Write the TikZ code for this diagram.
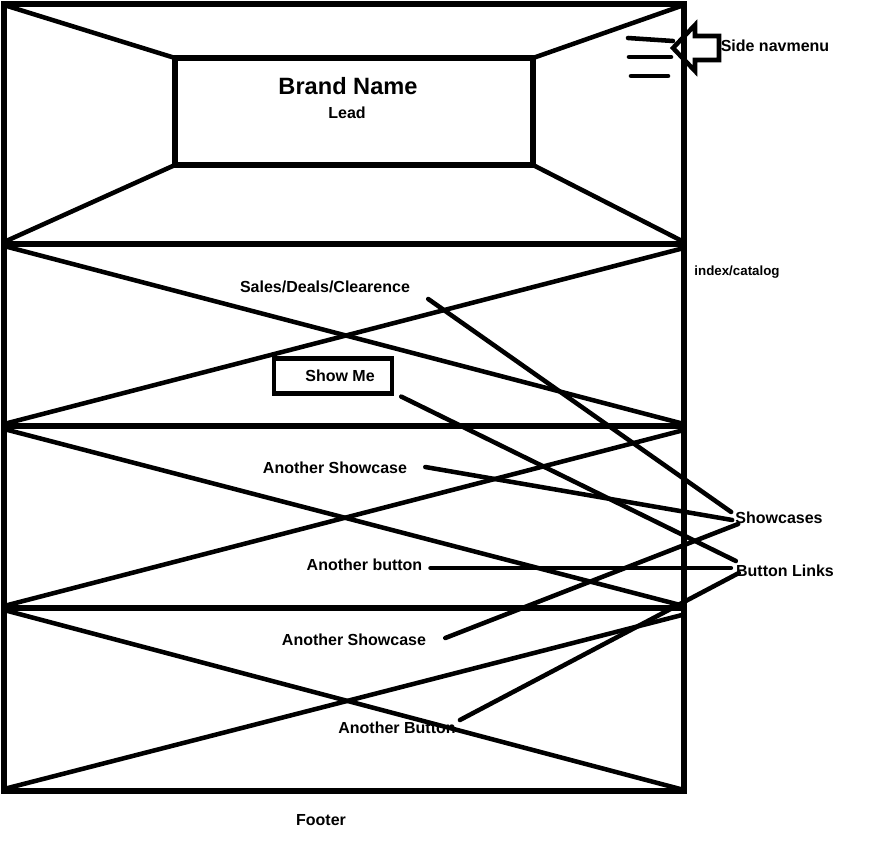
\documentclass[tikz,border=0pt]{standalone}
\usepackage{fontspec}
\setmainfont{Liberation Sans}
\usetikzlibrary{calc,positioning}
\tikzset{
  frame/.style={line width=3.9pt},
  cross/.style={line width=3.4pt},
  link/.style={line width=3.4pt, line cap=round},
  lbl/.style={font=\bfseries\fontsize{12}{14}\selectfont, inner sep=0pt, anchor=base},
  btnbox/.style={draw, line width=3.4pt, minimum width=88.5pt, minimum height=26pt, inner sep=0pt,
    font=\bfseries\fontsize{12}{14}\selectfont},
}
\begin{document}
\begin{tikzpicture}[x=0.75pt,y=0.75pt,yscale=-1,xscale=1]
\useasboundingbox (0,0) rectangle (877,842);

%Header crosses
\draw [cross] (4,5) -- (175,58);
\draw [cross] (684,5) -- (533,58);
\draw [cross] (4,242) -- (175,165);
\draw [cross] (684,242) -- (533,165);
\draw [frame] (175,58) rectangle (533,165);
\node [lbl, font=\bfseries\fontsize{17.7}{20}\selectfont] (brand) at (348,94.5) {Brand Name};
\node [lbl] (lead) at (347,118) {Lead};

%Section crosses
\draw [cross] (4,246) -- (684,424);
\draw [cross] (4,424) -- (684,248);
\draw [cross] (4,429) -- (684,606);
\draw [cross] (4,606) -- (684,430);
\draw [cross] (4,610) -- (684,790);
\draw [cross] (4,789) -- (682,615);

%Frame and separators
\draw [frame] (4,4) rectangle (684,791);
\draw [frame] (4,244) -- (684,244);
\draw [frame] (4,426) -- (684,426);
\draw [frame] (4,608) -- (684,608);

%Side navmenu
\draw [link] (628,38) -- (673,41);
\draw [link] (629,57) -- (671,57);
\draw [link] (631,76) -- (668,76);
\draw [line width=3.4pt] (673,48) -- (695,25) -- (695,36) -- (719,36) -- (719,60) -- (695,60) -- (695,71) -- cycle;
\node [lbl] (sidenav) at (775,52) {Side navmenu};
\node [lbl, font=\bfseries\fontsize{10}{12}\selectfont] (index) at (737,275) {index/catalog};

%Labels
\node [lbl] (sales) at (325,292) {Sales/Deals/Clearence};
\node [btnbox] (showme) at (333,376) {\hspace*{10.5pt}Show Me};
\node [lbl] (showcaseA) at (335,473) {Another Showcase};
\node [lbl] (buttonA) at (364.5,570) {Another button};
\node [lbl] (showcaseB) at (354,645) {Another Showcase};
\node [lbl] (buttonB) at (397,733) {Another Button};
\node [lbl] (footer) at (321,825) {Footer};
\node [lbl] (showcases) at (779,523) {Showcases};
\node [lbl] (buttonlinks) at (785,576) {Button Links};

%Connectors
\draw [link] ($(sales.base east)+(18,7)$) -- ($(showcases.base west)+(-4,-11)$);
\draw [link] ($(showcaseA.base east)+(18,-6)$) -- ($(showcases.base west)+(-3,-3)$);
\draw [link] ($(showcaseB.base east)+(19,-7)$) -- ($(showcases.base west)+(3,1)$);
\draw [link] ($(showme.south east)+(7,1)$) -- ($(buttonlinks.base west)+(0,-15)$);
\draw [link] ($(buttonA.base east)+(8,-2)$) -- ($(buttonlinks.base west)+(-5,-8)$);
\draw [link] ($(buttonB.base east)+(4,-13)$) -- ($(buttonlinks.base west)+(3,-3)$);
\end{tikzpicture}
\end{document}
